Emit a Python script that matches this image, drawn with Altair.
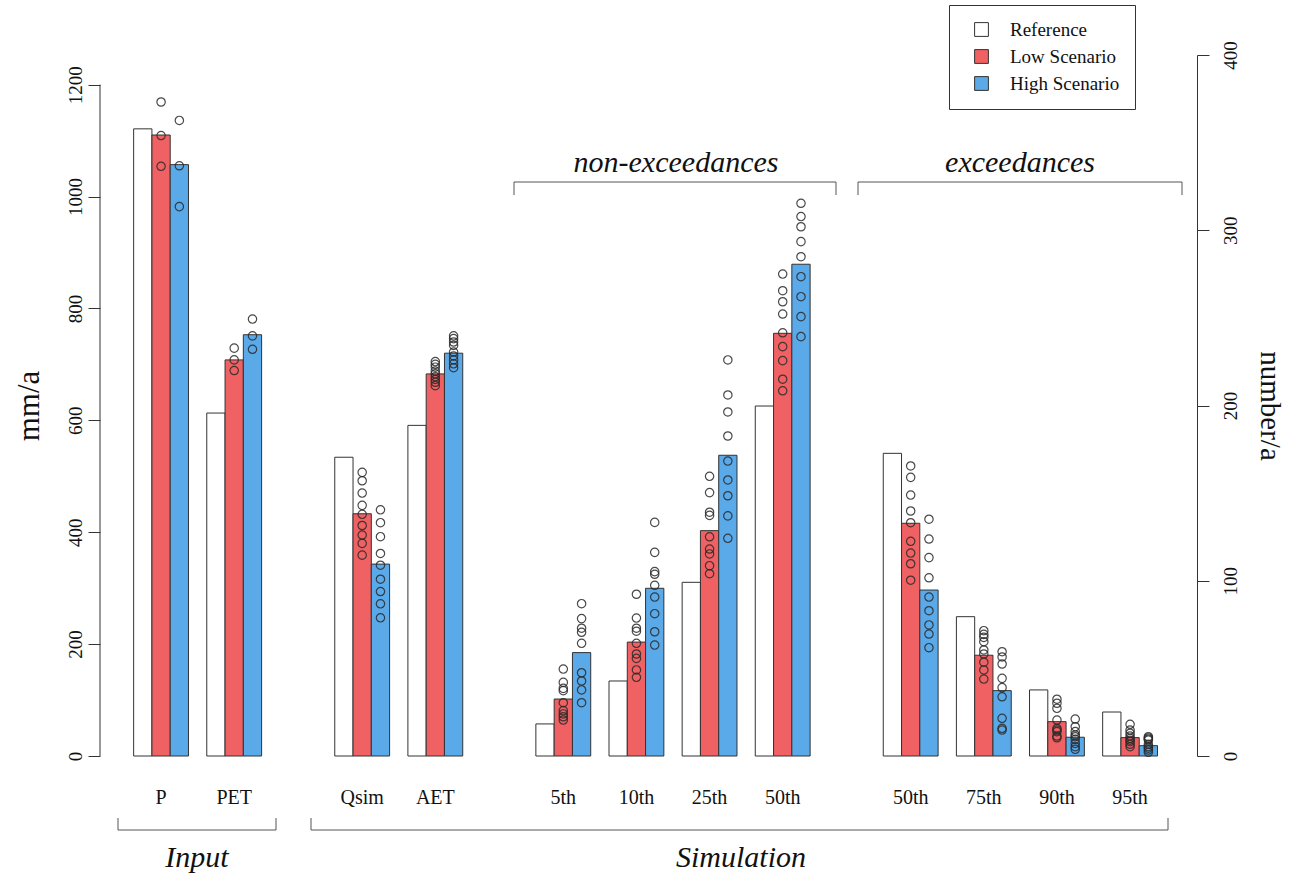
import altair as alt
import pandas as pd

SERIES = ["Reference", "Low Scenario", "High Scenario"]
COLORS = ["#ffffff", "#ef6163", "#5aa9e9"]

group_labels = ["P", "PET", "Qsim", "AET", "5th", "10th", "25th", "50th",
                "50th", "75th", "90th", "95th"]
group_section = [0, 0, 1, 1, 2, 2, 2, 2, 3, 3, 3, 3]
group_unit = ["mm", "mm", "mm", "mm", "num", "num", "num", "num",
              "num", "num", "num", "num"]

reference = [1121, 613, 534, 591, 18.3, 42.8, 99.1, 199.7, 172.7, 79.5, 37.7, 25.1]
low = [1110, 708, 433, 683, 32.5, 65.0, 128.6, 241.2, 132.8, 57.5, 19.6, 10.5]
high = [1057, 753, 343, 720, 59.0, 95.7, 171.6, 280.6, 94.7, 37.3, 10.7, 5.9]

low_members = [
    [1169, 1109, 1054],
    [729, 708, 689],
    [507, 492, 470, 448, 432, 412, 395, 380, 359],
    [705, 700, 695, 688, 683, 678, 673, 668, 662],
    [49.6, 42.0, 38.6, 37.3, 30.4, 25.9, 24.0, 22.4, 20.5],
    [92.3, 78.7, 72.9, 71.2, 64.3, 58.2, 55.7, 49.1, 44.9],
    [159.6, 150.3, 139.1, 137.3, 125.1, 118.1, 115.3, 108.6, 104.0],
    [275.0, 265.5, 259.2, 252.2, 241.5, 233.6, 225.6, 215.0, 208.4],
    [165.5, 159.0, 148.9, 139.8, 133.1, 122.5, 115.8, 109.7, 100.3],
    [71.5, 69.4, 67.7, 65.2, 60.5, 58.2, 53.5, 49.1, 43.9],
    [32.4, 30.1, 27.2, 20.5, 15.8, 14.8, 13.9, 11.4, 10.4],
    [18.1, 14.8, 13.0, 11.4, 10.1, 9.0, 8.2, 6.7, 5.3],
]
high_members = [
    [1136, 1055, 982],
    [781, 751, 727],
    [440, 417, 392, 362, 341, 316, 294, 272, 247],
    [751, 746, 740, 734, 722, 715, 708, 701, 694],
    [86.9, 78.4, 72.9, 70.6, 64.3, 47.5, 42.8, 37.7, 30.4],
    [133.3, 116.2, 105.2, 103.7, 97.4, 90.7, 81.2, 70.9, 63.3],
    [226.0, 206.0, 196.3, 182.6, 168.3, 157.5, 148.5, 137.0, 124.2],
    [315.4, 307.8, 302.0, 293.5, 284.9, 273.5, 262.1, 250.7, 239.3],
    [135.1, 123.8, 113.2, 101.7, 90.7, 82.9, 74.8, 69.6, 61.8],
    [59.5, 56.5, 52.5, 44.3, 39.0, 33.8, 21.5, 15.8, 14.8],
    [21.1, 16.7, 13.9, 12.0, 11.0, 9.5, 7.2, 5.3, 3.8],
    [11.0, 10.3, 9.7, 9.1, 6.7, 5.3, 4.5, 3.4, 2.1],
]

FONT = "Liberation Serif"
W, H = 1097, 701

# ---- slot domain (bars side by side, one empty slot between groups, four between sections)
slots = ["edge_left"]
gap_n = 0
for gi, (lab, sec) in enumerate(zip(group_labels, group_section)):
    if gi > 0:
        n_gap = 1 if sec == group_section[gi - 1] else 4
        for _ in range(n_gap):
            slots.append(f"gap{gap_n}")
            gap_n += 1
    for s in SERIES:
        slots.append(f"{gi}|{lab}|{s}")
slots.append("edge_right")

mid_slots = [f"{gi}|{lab}|Low Scenario" for gi, lab in enumerate(group_labels)]

bar_rows, pt_rows = [], []
for gi, lab in enumerate(group_labels):
    for s, v in zip(SERIES, [reference[gi], low[gi], high[gi]]):
        bar_rows.append({"slot": f"{gi}|{lab}|{s}", "series": s, "value": v, "unit": group_unit[gi]})
    for s, mem in (("Low Scenario", low_members[gi]), ("High Scenario", high_members[gi])):
        for v in mem:
            pt_rows.append({"slot": f"{gi}|{lab}|{s}", "series": s, "value": v, "unit": group_unit[gi]})
bars = pd.DataFrame(bar_rows)
pts = pd.DataFrame(pt_rows)

x_scale = alt.Scale(domain=slots, paddingInner=0, paddingOuter=1, align=0.42)
x_axis = alt.Axis(values=mid_slots, labelExpr="split(datum.value, '|')[1]",
                  domain=False, ticks=False, grid=False, labelAngle=0,
                  labelPadding=31, labelFont=FONT, labelFontSize=20, labelColor="#111")


def X():
    return alt.X("slot:N", scale=x_scale, axis=x_axis, title=None)


y_mm_scale = alt.Scale(domain=[0, 1253], nice=False, zero=True)
y_num_scale = alt.Scale(domain=[0, 400], nice=False, zero=True)
left_axis = alt.Axis(values=[0, 200, 400, 600, 800, 1000, 1200], format="d", domain=False,
                     grid=False, tickSize=12, tickColor="#333", labelAngle=270, labelAlign="center",
                     labelBaseline="bottom", labelPadding=3, labelFont=FONT, labelFontSize=19,
                     labelColor="#111", title="mm/a", titleFont=FONT, titleFontSize=31,
                     titleFontWeight="normal", titleColor="#111", titlePadding=21, orient="left")
right_axis = alt.Axis(values=[0, 100, 200, 300, 400], format="d", domain=True, domainColor="#333",
                      grid=False, tickSize=12, tickColor="#333", labelAngle=270,
                      labelAlign="center", labelBaseline="top", labelPadding=12, labelFont=FONT,
                      labelFontSize=19, labelColor="#111", title="number/a", titleFont=FONT,
                      titleFontSize=29, titleFontWeight="normal", titleColor="#111",
                      titlePadding=14, orient="right")

legend = alt.Legend(orient="none", legendX=849, legendY=-50, title=None,
                    strokeColor="#333", fillColor="white", padding=15,
                    symbolType="square", symbolSize=190, symbolStrokeColor="#333",
                    symbolStrokeWidth=1, symbolOffset=8, labelOffset=19,
                    labelFont=FONT, labelFontSize=19, labelColor="#111", rowPadding=7)
color = alt.Color("series:N", scale=alt.Scale(domain=SERIES, range=COLORS), legend=legend)

base_bars = alt.Chart(bars).mark_bar(stroke="#333", strokeWidth=1)
base_pts = alt.Chart(pts).mark_point(shape="circle", filled=False, size=70,
                                     color="#2a2a2a", strokeWidth=1.2, opacity=0.85)

mm_layer = alt.layer(
    base_bars.transform_filter("datum.unit == 'mm'").encode(
        x=X(), y=alt.Y("value:Q", scale=y_mm_scale, axis=left_axis), color=color),
    base_pts.transform_filter("datum.unit == 'mm'").encode(
        x=X(), y=alt.Y("value:Q", scale=y_mm_scale, axis=left_axis)),
    alt.Chart(pd.DataFrame({"a": [0], "b": [1200]})).mark_rule(color="#333", strokeWidth=1).encode(
        x=alt.value(0), y=alt.Y("a:Q", scale=y_mm_scale, axis=left_axis), y2="b:Q"),
)

num_layer = alt.layer(
    base_bars.transform_filter("datum.unit == 'num'").encode(
        x=X(), y=alt.Y("value:Q", scale=y_num_scale, axis=right_axis), color=color),
    base_pts.transform_filter("datum.unit == 'num'").encode(
        x=X(), y=alt.Y("value:Q", scale=y_num_scale, axis=right_axis)),
)

one = pd.DataFrame({"d": [0]})
BR = "#555"


def hbracket(x1, x2, y, y_end):
    return [
        alt.Chart(one).mark_rule(color=BR, strokeWidth=1).encode(
            x=alt.value(x1), x2=alt.value(x2), y=alt.value(y)),
        alt.Chart(one).mark_rule(color=BR, strokeWidth=1).encode(
            x=alt.value(x1), y=alt.value(y), y2=alt.value(y_end)),
        alt.Chart(one).mark_rule(color=BR, strokeWidth=1).encode(
            x=alt.value(x2), y=alt.value(y), y2=alt.value(y_end)),
    ]


def label(txt, x, y, size):
    return alt.Chart(one).mark_text(text=txt, font=FONT, fontStyle="italic", fontSize=size,
                                    color="#111", align="center", baseline="middle").encode(
        x=alt.value(x), y=alt.value(y))


annot = (hbracket(414, 736, 127, 140) + hbracket(758, 1082, 127, 140)
         + hbracket(18, 176, 775, 763) + hbracket(211, 1068, 775, 763)
         + [label("non-exceedances", 576, 108, 30), label("exceedances", 920, 108, 30),
            label("Input", 97, 803, 30), label("Simulation", 641, 803, 30)])

chart = alt.layer(mm_layer, num_layer, *annot).resolve_scale(y="independent").properties(
    width=W, height=H,
    background="white",
    autosize=alt.AutoSizeParams(type="none"),
    padding={"left": 100, "top": 55, "right": 106, "bottom": 121},
).configure_view(strokeWidth=0, stroke="transparent")

chart.save("out.html", embed_options={"renderer": "svg", "actions": False})
